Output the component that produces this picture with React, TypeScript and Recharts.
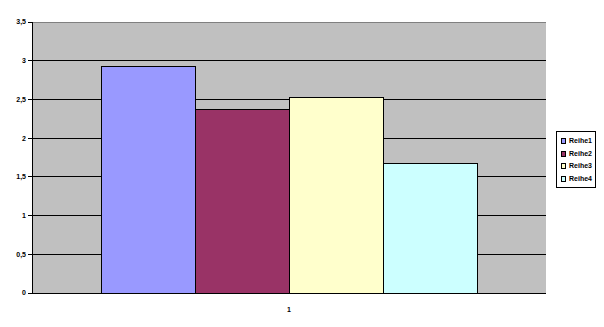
import React from 'react';
import { BarChart, Bar, XAxis, YAxis, CartesianGrid, ReferenceLine } from 'recharts';

const categories = ['1'];
const seriesNames = ['Reihe1', 'Reihe2', 'Reihe3', 'Reihe4'];
const seriesValues = [2.93, 2.37, 2.53, 1.67];
const seriesColors = ['#9999FF', '#993366', '#FFFFCC', '#CCFFFF'];
const yTicks = [0, 0.5, 1, 1.5, 2, 2.5, 3, 3.5];

const data = categories.map((c) => {
  const row: Record<string, string | number> = { name: c };
  seriesNames.forEach((s, i) => {
    row[s] = seriesValues[i];
  });
  return row;
});

const fontFamily = '"Liberation Sans", Arial, sans-serif';

const LegendBox = () => (
  <div
    style={{
      position: 'absolute',
      left: 556,
      top: 131,
      border: '1px solid #000',
      background: '#fff',
      padding: '3px 3px 2px 4px',
      width: 31,
      fontFamily,
      fontSize: 7,
      fontWeight: 700,
      color: '#000',
      lineHeight: '12.5px',
    }}
  >
    {seriesNames.map((s, i) => (
      <div key={s} style={{ display: 'flex', alignItems: 'center', whiteSpace: 'nowrap' }}>
        <span
          style={{
            display: 'inline-block',
            width: 4,
            height: 4,
            border: '1px solid #000',
            background: seriesColors[i],
            marginRight: 3,
          }}
        />
        {s}
      </div>
    ))}
  </div>
);

export default function App() {
  return (
    <div style={{ position: 'absolute', left: 0, top: 0, width: 604, height: 327, background: '#fff' }}>
      <style>{`.recharts-surface line, .recharts-surface path, .recharts-surface rect { shape-rendering: crispEdges; }`}</style>
      <BarChart
        width={604}
        height={327}
        data={data}
        margin={{ top: 22, right: 58, bottom: 14, left: 0 }}
        barCategoryGap={69}
        barGap={0}
      >
        <CartesianGrid yAxisId="left" fill="#C0C0C0" vertical={false} stroke="#000" strokeOpacity={1} />
        <XAxis
          dataKey="name"
          axisLine={{ stroke: '#000' }}
          tickLine={false}
          tickMargin={8}
          height={20}
          tick={{ fontSize: 7, fontWeight: 700, fill: '#000', fontFamily }}
        />
        <YAxis
          yAxisId="left"
          width={32}
          domain={[0, 3.5]}
          ticks={yTicks}
          interval={0}
          axisLine={{ stroke: '#000' }}
          tickLine={{ stroke: '#000' }}
          tickSize={4}
          tickFormatter={(v: number) => String(v).replace('.', ',')}
          tick={{ fontSize: 7, fontWeight: 700, fill: '#000', fontFamily }}
        />
        <YAxis
          yAxisId="right"
          orientation="right"
          width={0}
          domain={[0, 3.5]}
          axisLine={{ stroke: '#808080' }}
          tick={false}
          tickLine={false}
        />
        <ReferenceLine yAxisId="left" y={3.5} stroke="#808080" />
        {seriesNames.map((s, i) => (
          <Bar
            key={s}
            yAxisId="left"
            dataKey={s}
            fill={seriesColors[i]}
            stroke="#000"
            strokeWidth={1}
            isAnimationActive={false}
          />
        ))}
      </BarChart>
      <LegendBox />
    </div>
  );
}
